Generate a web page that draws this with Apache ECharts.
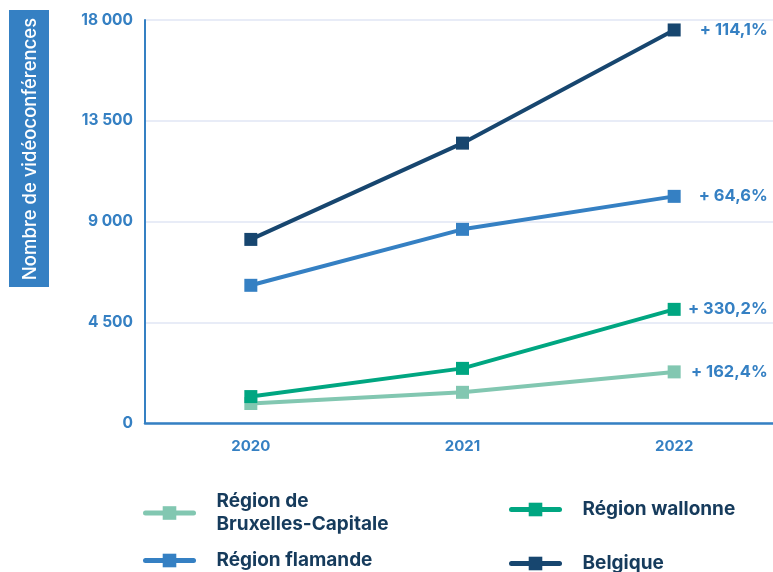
<!DOCTYPE html>
<html>
<head>
<meta charset="utf-8">
<script src="https://cdn.jsdelivr.net/npm/echarts@6/dist/echarts.min.js"></script>
<style>
  html, body { margin: 0; padding: 0; background: #fff; }
  #chart { width: 773px; height: 572px; }
</style>
</head>
<body>
<div id="chart"></div>
<script>
// données
const years = ['2020', '2021', '2022'];
const bruxelles = [870, 1370, 2283];
const flamande = [6150, 8650, 10123];
const wallonne = [1180, 2440, 5076];
const belgique = [8200, 12500, 17555];
const growthLabels = {
  bruxelles: '+ 162,4%',
  flamande: '+ 64,6%',
  wallonne: '+ 330,2%',
  belgique: '+ 114,1%'
};
const yTicks = { min: 0, max: 18000, interval: 4500 };

const blue = '#3580c3';
const navy = '#163b5c';
const font = 'Inter, "DejaVu Sans", sans-serif';

const chart = echarts.init(document.getElementById('chart'));

function makeSeries(name, values, color, label) {
  const last = values.length - 1;
  return {
    name: name,
    type: 'line',
    symbol: 'rect',
    symbolSize: 13,
    color: color,
    lineStyle: { width: 4, color: color },
    itemStyle: { color: color },
    emphasis: { disabled: true },
    data: values.map((v, i) => i === last ? {
      value: v,
      label: {
        show: true,
        formatter: label,
        position: [100, 6.5],
        align: 'right',
        verticalAlign: 'middle',
        color: blue,
        fontWeight: 'bold',
        fontSize: 16.5,
        fontFamily: font
      }
    } : v)
  };
}

const legendBase = {
  orient: 'vertical',
  padding: 0,
  itemWidth: 48,
  itemHeight: 17,
  selectedMode: false,
  lineStyle: { width: 5, cap: 'round' },
  textStyle: {
    color: navy,
    fontSize: 19,
    fontWeight: 'bold',
    fontFamily: font,
    lineHeight: 23,
    padding: [0, 0, 0, 18]
  }
};

const option = {
  animation: false,
  grid: { left: 145, width: 635, top: 20, bottom: 149, outerBoundsMode: 'none' },
  legend: [
    Object.assign({}, legendBase, { data: ['Région de\nBruxelles-Capitale'], left: 143, top: 490 }),
    Object.assign({}, legendBase, { data: ['Région flamande'], left: 143, top: 549 }),
    Object.assign({}, legendBase, { data: ['Région wallonne'], left: 509, top: 498 }),
    Object.assign({}, legendBase, { data: ['Belgique'], left: 509, top: 552 })
  ],
  xAxis: {
    type: 'category',
    data: years,
    axisLine: { lineStyle: { color: blue, width: 2.5 } },
    axisTick: { show: false },
    axisLabel: {
      margin: 16,
      color: blue,
      fontWeight: 'bold',
      fontSize: 15,
      fontFamily: font
    }
  },
  yAxis: {
    type: 'value',
    min: yTicks.min,
    max: yTicks.max,
    interval: yTicks.interval,
    axisLine: { show: true, lineStyle: { color: blue, width: 2 } },
    axisTick: { show: false },
    splitLine: { lineStyle: { color: '#e0e6f5', width: 1.5 } },
    axisLabel: {
      margin: 12,
      color: blue,
      fontWeight: 'bold',
      fontSize: 15.5,
      fontFamily: font,
      formatter: v => String(v).replace(/\B(?=(\d{3})+(?!\d))/g, ' ')
    }
  },
  graphic: [
    {
      type: 'rect',
      shape: { x: 9, y: 10, width: 40, height: 277 },
      style: { fill: blue }
    },
    {
      type: 'text',
      x: 30,
      y: 149,
      rotation: Math.PI / 2,
      style: {
        text: 'Nombre de vidéoconférences',
        fill: '#fff',
        font: '500 18.5px ' + font,
        textAlign: 'center',
        textVerticalAlign: 'middle'
      }
    }
  ],
  series: [
    makeSeries('Région de\nBruxelles-Capitale', bruxelles, '#82c7b1', growthLabels.bruxelles),
    makeSeries('Région flamande', flamande, '#3580c3', growthLabels.flamande),
    makeSeries('Région wallonne', wallonne, '#00a681', growthLabels.wallonne),
    makeSeries('Belgique', belgique, '#17466f', growthLabels.belgique)
  ]
};

chart.setOption(option);
</script>
</body>
</html>
